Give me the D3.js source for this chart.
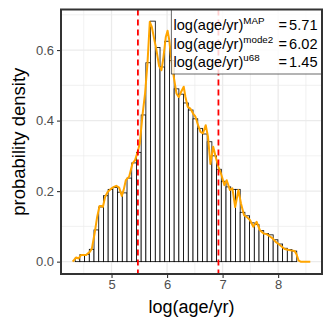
<!DOCTYPE html>
<html>
<head>
<meta charset="utf-8">
<script src="https://cdn.jsdelivr.net/npm/d3@7"></script>
<style>
  html, body { margin: 0; padding: 0; background: #fff; }
  svg { display: block; font-family: "Liberation Sans", Arial, sans-serif; }
</style>
</head>
<body>
<div id="chart"></div>
<script>
// histogram of log(age/yr): equal bins starting at binStart
const binStart = 4.345;
const binWidth = 0.0849;
const barDensity = [
    0.010, 0.020, 0.020, 0.035, 0.090, 0.155, 0.187, 0.205, 0.210, 0.197,
    0.195, 0.237, 0.280, 0.310, 0.416, 0.564, 0.682, 0.607, 0.552, 0.625,
    0.570, 0.490, 0.475, 0.450, 0.430, 0.405, 0.378, 0.362, 0.340, 0.300,
    0.262, 0.228, 0.212, 0.205, 0.205, 0.140, 0.130, 0.110, 0.105, 0.088,
    0.080, 0.076, 0.062, 0.050, 0.038, 0.034, 0.030
];

// orange density curve
const lineAge = [
    4.300, 4.363, 4.406, 4.453, 4.543, 4.604, 4.646, 4.694, 4.741, 4.784,
    4.817, 4.844, 4.885, 4.933, 4.993, 5.041, 5.086, 5.137, 5.185, 5.221,
    5.257, 5.317, 5.378, 5.424, 5.468, 5.509, 5.558, 5.604, 5.647, 5.689,
    5.725, 5.766, 5.809, 5.856, 5.899, 5.935, 5.977, 6.009, 6.040, 6.072,
    6.121, 6.169, 6.210, 6.252, 6.300, 6.331, 6.372, 6.421, 6.468, 6.511,
    6.558, 6.601, 6.647, 6.696, 6.737, 6.781, 6.831, 6.876, 6.924, 6.971,
    7.032, 7.074, 7.133, 7.176, 7.227, 7.284, 7.331, 7.385, 7.433, 7.493,
    7.554, 7.613, 7.673, 7.739, 7.793, 7.847, 7.901, 7.955, 8.009, 8.063,
    8.117, 8.171, 8.225, 8.297, 8.333, 8.369, 8.405, 8.579
];
const lineDensity = [
    0.000, 0.012, 0.009, 0.019, 0.019, 0.027, 0.037, 0.079, 0.127, 0.158,
    0.158, 0.155, 0.184, 0.198, 0.207, 0.212, 0.215, 0.210, 0.186, 0.205,
    0.231, 0.241, 0.279, 0.288, 0.310, 0.335, 0.416, 0.477, 0.562, 0.680,
    0.666, 0.633, 0.600, 0.555, 0.543, 0.580, 0.637, 0.655, 0.628, 0.580,
    0.524, 0.477, 0.467, 0.481, 0.496, 0.467, 0.439, 0.434, 0.420, 0.411,
    0.387, 0.368, 0.364, 0.387, 0.354, 0.277, 0.326, 0.297, 0.269, 0.250,
    0.217, 0.231, 0.203, 0.208, 0.155, 0.203, 0.165, 0.132, 0.127, 0.118,
    0.099, 0.113, 0.089, 0.080, 0.078, 0.072, 0.066, 0.056, 0.050, 0.043,
    0.036, 0.034, 0.032, 0.030, 0.020, 0.003, 0.000, 0.000
];

const intervalLines = [5.475, 6.925];
const xTicks = [5, 6, 7, 8];
const xMinor = [4.5, 5.5, 6.5, 7.5, 8.5];
const yTicks = [0, 0.2, 0.4, 0.6];
const yMinor = [0.1, 0.3, 0.5, 0.7];
const statNames = ["MAP", "mode2", "u68"];
const statValues = ["5.71", "6.02", "1.45"];

const W = 332, H = 332;
const panel = {left: 61, right: 322, top: 9.5, bottom: 274};

const svg = d3.select("#chart").append("svg")
    .attr("width", W)
    .attr("height", H);

const x = d3.scaleLinear().domain([4.09, 8.79]).range([panel.left, panel.right]);
const y = d3.scaleLinear().domain([-0.035, 0.715]).range([panel.bottom, panel.top]);

svg.append("clipPath").attr("id", "clip")
    .append("rect")
    .attr("x", panel.left).attr("y", panel.top)
    .attr("width", panel.right - panel.left)
    .attr("height", panel.bottom - panel.top);

const plot = svg.append("g").attr("clip-path", "url(#clip)");

//grid
plot.selectAll(".xminor").data(xMinor).enter().append("line")
    .attr("x1", d => x(d)).attr("x2", d => x(d))
    .attr("y1", panel.top).attr("y2", panel.bottom)
    .attr("stroke", "#ebebeb").attr("stroke-width", 0.7);
plot.selectAll(".yminor").data(yMinor).enter().append("line")
    .attr("y1", d => y(d)).attr("y2", d => y(d))
    .attr("x1", panel.left).attr("x2", panel.right)
    .attr("stroke", "#ebebeb").attr("stroke-width", 0.7);
plot.selectAll(".xmajor").data(xTicks).enter().append("line")
    .attr("x1", d => x(d)).attr("x2", d => x(d))
    .attr("y1", panel.top).attr("y2", panel.bottom)
    .attr("stroke", "#ebebeb").attr("stroke-width", 1.3);
plot.selectAll(".ymajor").data(yTicks).enter().append("line")
    .attr("y1", d => y(d)).attr("y2", d => y(d))
    .attr("x1", panel.left).attr("x2", panel.right)
    .attr("stroke", "#ebebeb").attr("stroke-width", 1.3);

//histogram
plot.selectAll(".bar")
    .data(barDensity)
    .enter()
    .append("rect")
    .attr("class", "bar")
    .attr("x", (d, i) => x(binStart + i * binWidth))
    .attr("width", (d, i) => x(binStart + (i + 1) * binWidth) - x(binStart + i * binWidth))
    .attr("y", d => y(d))
    .attr("height", d => y(0) - y(d))
    .attr("fill", "#fff")
    .attr("stroke", "#000")
    .attr("stroke-width", 0.8);

//density curve
const points = lineAge.map((a, i) => [a, lineDensity[i]]);
plot.append("path")
    .datum(points)
    .attr("fill", "none")
    .attr("stroke", "orange")
    .attr("stroke-width", 2)
    .attr("stroke-linejoin", "round")
    .attr("d", d3.line().x(d => x(d[0])).y(d => y(d[1])));

//68% interval
plot.selectAll(".vline").data(intervalLines).enter().append("line")
    .attr("x1", d => x(d)).attr("x2", d => x(d))
    .attr("y1", panel.top).attr("y2", panel.bottom)
    .attr("stroke", "red")
    .attr("stroke-width", 1.8)
    .attr("stroke-dasharray", "6,4");

//stats box
const box = {left: 171.3, bottom: 74};
plot.append("rect")
    .attr("x", box.left).attr("y", panel.top - 2)
    .attr("width", panel.right - box.left + 4)
    .attr("height", box.bottom - panel.top + 2)
    .attr("fill", "#fff").attr("fill-opacity", 0.82)
    .attr("stroke", "#444").attr("stroke-width", 0.8);

const rowY = [30.2, 48.6, 67];
statNames.forEach((name, i) => {
    const t = svg.append("text")
        .attr("x", 173.5).attr("y", rowY[i])
        .attr("font-size", "14.6px").attr("fill", "#000");
    t.append("tspan").text("log(age/yr)");
    t.append("tspan").attr("font-size", "9.8px").attr("dy", -5.8).text(name);
    svg.append("text")
        .attr("x", 278.5).attr("y", rowY[i])
        .attr("font-size", "14.6px").attr("fill", "#000")
        .text("=");
    svg.append("text")
        .attr("x", 317.5).attr("y", rowY[i])
        .attr("text-anchor", "end")
        .attr("font-size", "14.6px").attr("fill", "#000")
        .text(statValues[i]);
});

//panel border
svg.append("rect")
    .attr("x", panel.left).attr("y", panel.top)
    .attr("width", panel.right - panel.left)
    .attr("height", panel.bottom - panel.top)
    .attr("fill", "none")
    .attr("stroke", "#333").attr("stroke-width", 2);

//axes
const xAxis = svg.append("g")
    .attr("transform", `translate(0,${panel.bottom})`)
    .call(d3.axisBottom(x).tickValues(xTicks).tickSize(4).tickPadding(2).tickFormat(d3.format("d")));
const yAxis = svg.append("g")
    .attr("transform", `translate(${panel.left},0)`)
    .call(d3.axisLeft(y).tickValues(yTicks).tickSize(4).tickPadding(3).tickFormat(d3.format(".1f")));

[xAxis, yAxis].forEach(a => {
    a.select(".domain").remove();
    a.selectAll(".tick line").attr("stroke", "#333").attr("stroke-width", 1.1);
    a.selectAll("text")
        .attr("fill", "#4d4d4d")
        .style("font-size", "13px")
        .style("font-family", "'Liberation Sans', Arial, sans-serif");
});

svg.append("text")
    .attr("x", (panel.left + panel.right) / 2)
    .attr("y", 313)
    .attr("text-anchor", "middle")
    .attr("font-size", "18px")
    .text("log(age/yr)");

svg.append("text")
    .attr("transform", `translate(25,${(panel.top + panel.bottom) / 2}) rotate(-90)`)
    .attr("text-anchor", "middle")
    .attr("font-size", "18.5px")
    .text("probability density");
</script>
</body>
</html>
